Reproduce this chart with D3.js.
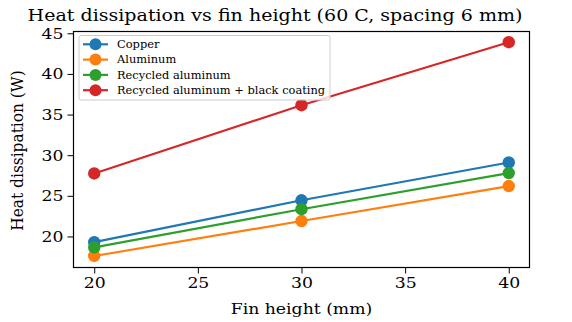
<!DOCTYPE html>
<html>
<head>
<meta charset="utf-8">
<script src="https://cdn.jsdelivr.net/npm/d3@7"></script>
<style>
  body { margin: 0; background: #fff; }
  text { font-family: "DejaVu Serif", serif; fill: #000; }
</style>
</head>
<body>
<div id="chart"></div>
<script>
// chart data
const finHeights = [20, 30, 40];
const seriesNames = ["Copper", "Aluminum", "Recycled aluminum", "Recycled aluminum + black coating"];
const copper = [19.3, 24.45, 29.1];
const aluminum = [17.6, 21.9, 26.2];
const recycled = [18.65, 23.35, 27.8];
const recycledBlack = [27.75, 36.15, 43.9];
const colors = ["#1f77b4", "#ff7f0e", "#2ca02c", "#d62728"];
const xTicks = [20, 25, 30, 35, 40];
const yTicks = [20, 25, 30, 35, 40, 45];

const width = 572;
const height = 322;
const plotLeft = 73.5, plotRight = 529.5, plotTop = 31.5, plotBottom = 267.5;
const stretch = 1.12; // the reference text is a bit wider than it is tall

const svg = d3.select("#chart").append("svg")
    .attr("width", width).attr("height", height);

const xScale = d3.scaleLinear().domain([19, 41]).range([plotLeft, plotRight]);
const yScale = d3.scaleLinear().domain([16.18, 45.22]).range([plotBottom, plotTop]);

const allSeries = [copper, aluminum, recycled, recycledBlack];

// lines and markers
const line = d3.line().x((d, i) => xScale(finHeights[i])).y(d => yScale(d));
allSeries.forEach((vals, k) => {
    const g = svg.append("g");
    g.append("path").datum(vals)
        .attr("d", line)
        .attr("fill", "none")
        .attr("stroke", colors[k])
        .attr("stroke-width", 2.2);
    g.selectAll("circle").data(vals).enter()
        .append("circle")
        .attr("cx", (d, i) => xScale(finHeights[i]))
        .attr("cy", d => yScale(d))
        .attr("r", 6.2)
        .attr("fill", colors[k]);
});

// axes
const xAxis = d3.axisBottom(xScale).tickValues(xTicks).tickSize(6).tickPadding(4);
const yAxis = d3.axisLeft(yScale).tickValues(yTicks).tickSize(6).tickPadding(4);

const gx = svg.append("g").attr("transform", `translate(0,${plotBottom})`).call(xAxis);
const gy = svg.append("g").attr("transform", `translate(${plotLeft},0)`).call(yAxis);
[gx, gy].forEach(g => {
    g.select(".domain").remove();
    g.selectAll("text")
        .style("font-family", "DejaVu Serif").style("font-size", "15.4px")
        .attr("transform", `scale(${stretch},1)`);
    g.selectAll("line").attr("stroke", "#000").attr("stroke-width", 1);
});
gy.selectAll("text").attr("x", -10 / stretch);

// frame
svg.append("rect")
    .attr("x", plotLeft).attr("y", plotTop)
    .attr("width", plotRight - plotLeft).attr("height", plotBottom - plotTop)
    .attr("fill", "none").attr("stroke", "#000").attr("stroke-width", 1.2);

// labels
svg.append("text")
    .attr("transform", `translate(275,21) scale(${stretch},1)`)
    .attr("text-anchor", "middle")
    .style("font-size", "17px")
    .text("Heat dissipation vs fin height (60 C, spacing 6 mm)");

svg.append("text")
    .attr("transform", `translate(${(plotLeft + plotRight) / 2},314) scale(${stretch},1)`)
    .attr("text-anchor", "middle")
    .style("font-size", "15.4px")
    .text("Fin height (mm)");

svg.append("text")
    .attr("transform", `translate(23,${(plotTop + plotBottom) / 2 + 1}) scale(${stretch},1) rotate(-90)`)
    .attr("text-anchor", "middle")
    .style("font-size", "15.4px")
    .text("Heat dissipation (W)");

// legend
const legend = svg.append("g");
legend.append("rect")
    .attr("x", 79).attr("y", 35.5)
    .attr("width", 251).attr("height", 64.5)
    .attr("rx", 2)
    .attr("fill", "#fff").attr("fill-opacity", 0.8)
    .attr("stroke", "#ccc").attr("stroke-width", 1);
seriesNames.forEach((name, k) => {
    const y = 44.3 + k * 15.3;
    legend.append("line")
        .attr("x1", 83).attr("x2", 108).attr("y1", y).attr("y2", y)
        .attr("stroke", colors[k]).attr("stroke-width", 2.2);
    legend.append("circle")
        .attr("cx", 95.5).attr("cy", y).attr("r", 6).attr("fill", colors[k]);
    legend.append("text")
        .attr("transform", `translate(117,${y + 3.8}) scale(${stretch},1)`)
        .style("font-size", "10.2px")
        .text(name);
});
</script>
</body>
</html>
